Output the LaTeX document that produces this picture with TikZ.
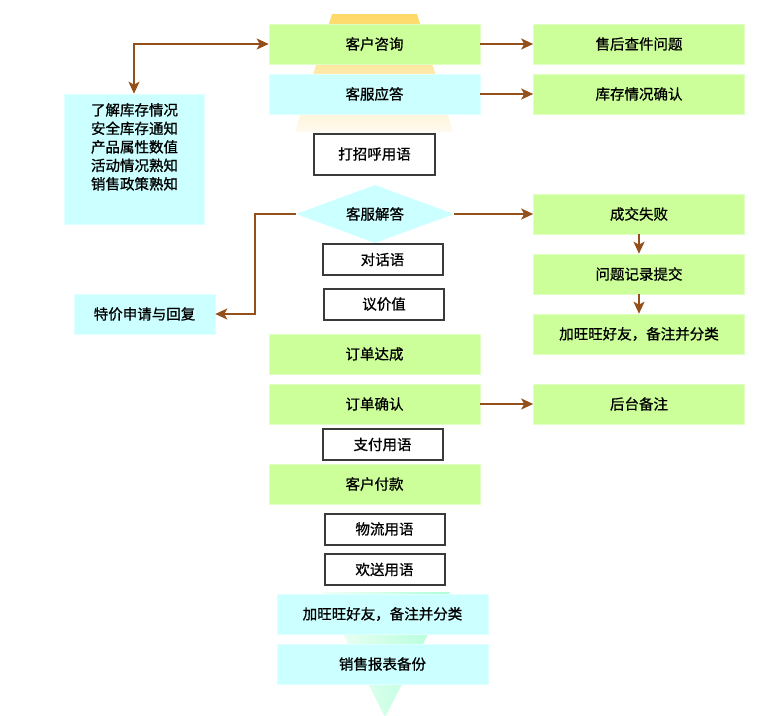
\documentclass[tikz,border=0pt]{standalone}
\usepackage{fontspec}
\newfontfamily\cjk[FakeBold=1]{Noto Sans CJK SC}
\usetikzlibrary{arrows.meta,shapes.geometric}
\definecolor{gfill}{HTML}{CCFF99}
\definecolor{cfill}{HTML}{CCFFFF}
\definecolor{arrbrown}{HTML}{93501A}
\definecolor{obox}{HTML}{3A3A3A}
\definecolor{trtop}{HTML}{FFD966}
\definecolor{trbot}{HTML}{FFFAF0}
\definecolor{mintL}{HTML}{F2FFF8}
\definecolor{mintR}{HTML}{ADFFD6}
\tikzset{
  base/.style={inner sep=0pt, font=\cjk\fontsize{14.5}{17}\selectfont, text=black},
  gbox/.style={base, rectangle, fill=gfill, draw=gfill!60!white, line width=0.6pt, minimum width=211pt, minimum height=40pt},
  cbox/.style={base, rectangle, fill=cfill, draw=cfill!60!white, line width=0.6pt, minimum width=211pt, minimum height=40pt},
  obx/.style={base, rectangle, fill=white, draw=obox, line width=2pt, minimum width=120pt, minimum height=31pt},
  tip/.tip={Stealth[length=12pt,width=11pt,inset=3pt]},
  arr/.style={draw=arrbrown, line width=2pt, -tip},
  darr/.style={draw=arrbrown, line width=2pt, tip-tip},
}
\begin{document}
\begin{tikzpicture}[x=1pt,y=-1pt]
\useasboundingbox (0,0) rectangle (776,715);
% background gradient shapes
\shade[top color=trtop, bottom color=trbot] (332,14) -- (417,14) -- (453,132) -- (295,132) -- cycle;
\shade[left color=mintL, right color=mintR] (322,592) -- (450,592) -- (385,717) -- cycle;
% main column
\node[gbox] (zx) at (374.5,44) {客户咨询};
\node[cbox] (yd) at (374.5,94) {客服应答};
\node[obx, minimum width=121pt, minimum height=41pt] (dz) at (374.5,154) {打招呼用语};
\node[base, diamond, aspect=2.72, fill=cfill, minimum width=158pt, minimum height=58pt] (jd) at (375,214) {客服解答};
\node[obx] (dh) at (382.5,259.5) {对话语};
\node[obx] (yj) at (384,304) {议价值};
\node[gbox] (dc) at (374.5,354) {订单达成};
\node[gbox] (qr) at (374.5,404) {订单确认};
\node[obx] (zf) at (382.5,444.5) {支付用语};
\node[gbox] (fk) at (374.5,484) {客户付款};
\node[obx] (wl) at (384.5,529) {物流用语};
\node[obx] (hs) at (384.5,569.5) {欢送用语};
\node[cbox] (hy) at (382.5,614) {加旺旺好友，备注并分类};
\node[cbox] (bb) at (382.5,664) {销售报表备份};
% right column
\node[gbox] (sh) at (639,44) {售后查件问题};
\node[gbox] (kc) at (639,94) {库存情况确认};
\node[gbox] (sb) at (639,214) {成交失败};
\node[gbox] (wt) at (639,274) {问题记录提交};
\node[gbox] (hy2) at (639,334) {加旺旺好友，备注并分类};
\node[gbox] (ht) at (639,404) {后台备注};
% left column
\node[cbox, minimum width=140pt, minimum height=130pt] (lb) at (134,159) {};
\node[base, anchor=north, align=center, font=\cjk\fontsize{14.5}{18.5}\selectfont] (lbt) at (134.5,103) {了解库存情况\\安全库存通知\\产品属性数值\\活动情况熟知\\销售政策熟知};
\node[cbox, minimum width=141pt, minimum height=40pt] (tj) at (144.5,314) {特价申请与回复};
% connectors
\coordinate (c1) at (255,214);
\draw[darr] (zx.west) -| (lb.north);
\draw[arr] (zx.east) -- (sh.west);
\draw[arr] (yd.east) -- (kc.west);
\draw[arr] (jd.east) -- (sb.west);
\draw[arr] (jd.west) -- (c1) |- (tj.east);
\draw[arr] (sb.south) -- (wt.north);
\draw[arr] (wt.south) -- (hy2.north);
\draw[arr] (qr.east) -- (ht.west);
\end{tikzpicture}
\end{document}
